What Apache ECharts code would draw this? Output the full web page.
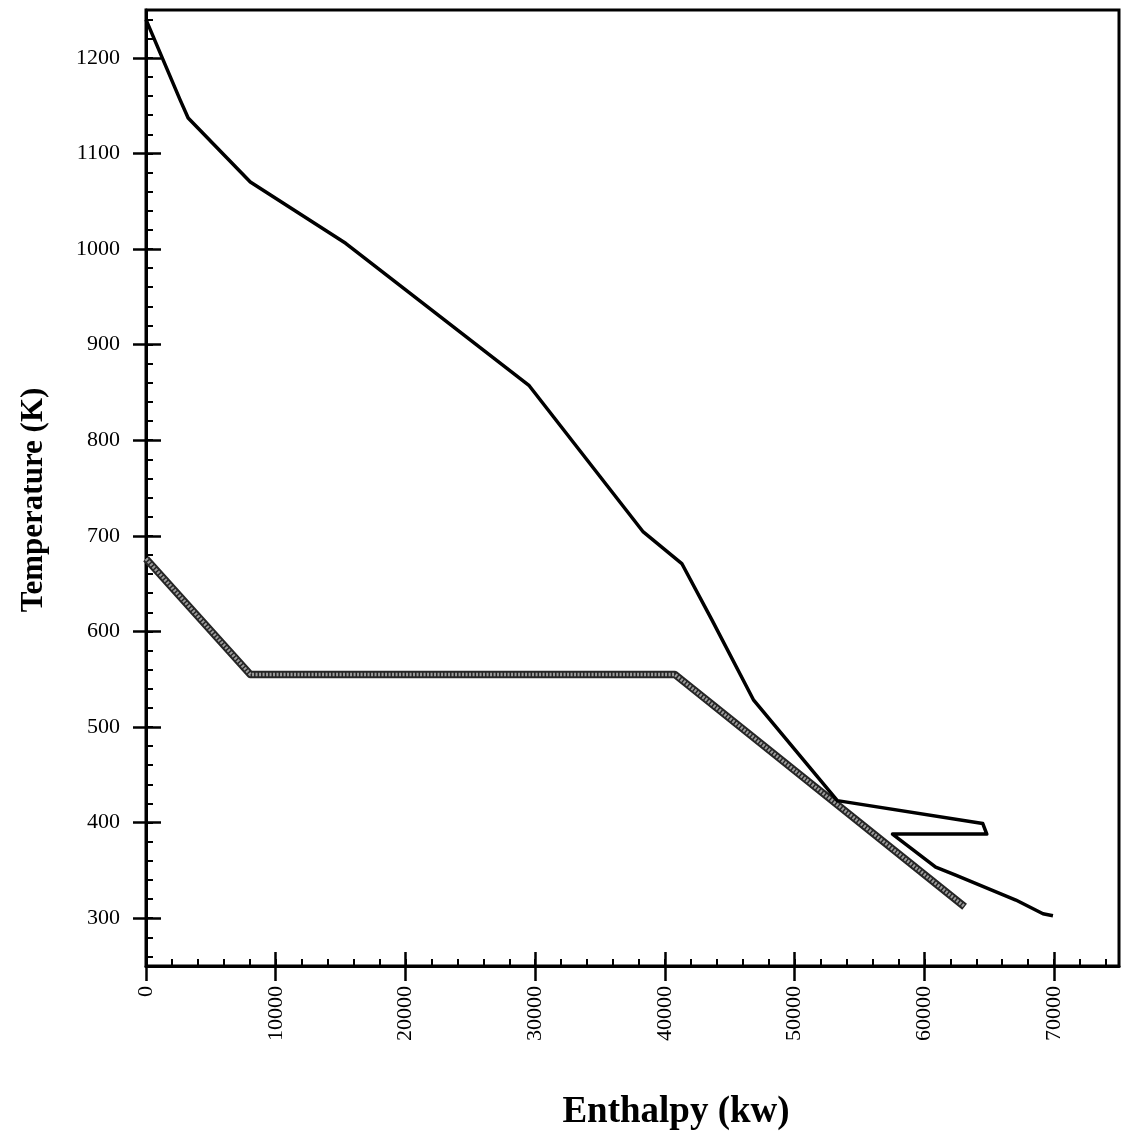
<!DOCTYPE html>
<html>
<head>
<meta charset="utf-8">
<title>Enthalpy vs Temperature</title>
<script src="https://cdn.jsdelivr.net/npm/echarts@6/dist/echarts.min.js"></script>
<style>
  html, body { margin: 0; padding: 0; background: #fff; }
  #chart { width: 1121px; height: 1140px; }
</style>
</head>
<body>
<div id="chart"></div>
<script>
// Hot stream composite curve: enthalpy (kW) and temperature (K)
const hotEnthalpy = [0, 2630, 3250, 8040, 15390, 29540, 38330, 41300, 43620, 46840, 53290, 64500, 64810, 57540, 60870, 62410, 67050, 69140, 69910];
const hotTemp     = [1240, 1156, 1137, 1070, 1006, 857, 704, 671, 612, 528, 423, 399, 388, 388, 353.5, 345, 319, 304.6, 302.5];

// Cold stream composite curve
const coldEnthalpy = [0, 8040, 40760, 63100];
const coldTemp     = [676, 555, 555, 312];

// Axis ticks
const xTickValues = [0, 10000, 20000, 30000, 40000, 50000, 60000, 70000];
const yTickValues = [300, 400, 500, 600, 700, 800, 900, 1000, 1100, 1200];
const xRange = [0, 75000];
const yRange = [250, 1250];
const xMinorStep = 2000;
const yMinorStep = 20;

const xMinorValues = [];
for (let v = xRange[0] + xMinorStep; v < xRange[1]; v += xMinorStep) xMinorValues.push(v);
const yMinorValues = [];
for (let v = yRange[0] + 10; v < yRange[1]; v += yMinorStep) yMinorValues.push(v);

const serif = '"Liberation Serif", "DejaVu Serif", serif';
const plain = v => String(v);

const pairs = (xs, ys) => xs.map((x, i) => [x, ys[i]]);

const chart = echarts.init(document.getElementById('chart'), null, { renderer: 'canvas' });

const axisBlack = { color: '#000', width: 3 };

chart.setOption({
  animation: false,
  backgroundColor: '#fff',
  grid: {
    left: 146, right: 2, top: 10, bottom: 174,
    show: true, borderColor: '#000', borderWidth: 3, backgroundColor: 'transparent'
  },
  xAxis: [
    { // main axis: line, labels, outward major ticks
      type: 'value', position: 'bottom', min: xRange[0], max: xRange[1],
      axisLine: { show: true, onZero: false, lineStyle: axisBlack },
      axisTick: { show: true, inside: false, length: 15, lineStyle: { color: '#000', width: 2.5 }, customValues: xTickValues },
      axisLabel: { show: true, rotate: 90, margin: 20, fontFamily: serif, fontSize: 22, color: '#000', customValues: xTickValues, formatter: plain },
      splitLine: { show: false }
    },
    { // inward major ticks
      type: 'value', position: 'bottom', min: xRange[0], max: xRange[1],
      axisLine: { show: false, onZero: false },
      axisTick: { show: true, inside: true, length: 14, lineStyle: { color: '#000', width: 2.5 }, customValues: xTickValues },
      axisLabel: { show: false },
      splitLine: { show: false }
    },
    { // inward minor ticks
      type: 'value', position: 'bottom', min: xRange[0], max: xRange[1],
      axisLine: { show: false, onZero: false },
      axisTick: { show: true, inside: true, length: 7, lineStyle: { color: '#000', width: 2 }, customValues: xMinorValues },
      axisLabel: { show: false },
      splitLine: { show: false }
    }
  ],
  yAxis: [
    {
      type: 'value', position: 'left', min: yRange[0], max: yRange[1],
      axisLine: { show: true, onZero: false, lineStyle: axisBlack },
      axisTick: { show: true, inside: false, length: 13, lineStyle: { color: '#000', width: 2.5 }, customValues: yTickValues },
      axisLabel: { show: true, margin: 26, fontFamily: serif, fontSize: 22, color: '#000', customValues: yTickValues, formatter: plain },
      splitLine: { show: false }
    },
    {
      type: 'value', position: 'left', min: yRange[0], max: yRange[1],
      axisLine: { show: false, onZero: false },
      axisTick: { show: true, inside: true, length: 15, lineStyle: { color: '#000', width: 2.5 }, customValues: yTickValues },
      axisLabel: { show: false },
      splitLine: { show: false }
    },
    {
      type: 'value', position: 'left', min: yRange[0], max: yRange[1],
      axisLine: { show: false, onZero: false },
      axisTick: { show: true, inside: true, length: 7, lineStyle: { color: '#000', width: 2 }, customValues: yMinorValues },
      axisLabel: { show: false },
      splitLine: { show: false }
    }
  ],
  series: [
    { // dark edge of the cold curve
      name: 'Cold edge', type: 'line', xAxisIndex: 0, yAxisIndex: 0,
      data: pairs(coldEnthalpy, coldTemp), showSymbol: false, silent: true,
      lineStyle: { color: '#262626', width: 7.5, join: 'round' }
    },
    { // lighter core of the cold curve
      name: 'Cold', type: 'line', xAxisIndex: 0, yAxisIndex: 0,
      data: pairs(coldEnthalpy, coldTemp), showSymbol: false, silent: true,
      lineStyle: { color: '#9c9c9c', width: 3.5, join: 'round', type: [2, 1.5] }
    },
    {
      name: 'Hot', type: 'line', xAxisIndex: 0, yAxisIndex: 0,
      data: pairs(hotEnthalpy, hotTemp), showSymbol: false, silent: true,
      lineStyle: { color: '#000', width: 3.5, join: 'round' }
    }
  ],
  graphic: [
    {
      type: 'text', x: 676, y: 1094,
      style: { text: 'Enthalpy (kw)', font: 'bold 37px ' + serif, fill: '#000', align: 'center', verticalAlign: 'top' }
    },
    {
      type: 'text', x: 34, y: 500, rotation: Math.PI / 2,
      style: { text: 'Temperature (K)', font: 'bold 31px ' + serif, fill: '#000', align: 'center', verticalAlign: 'middle' }
    }
  ]
});
</script>
</body>
</html>
